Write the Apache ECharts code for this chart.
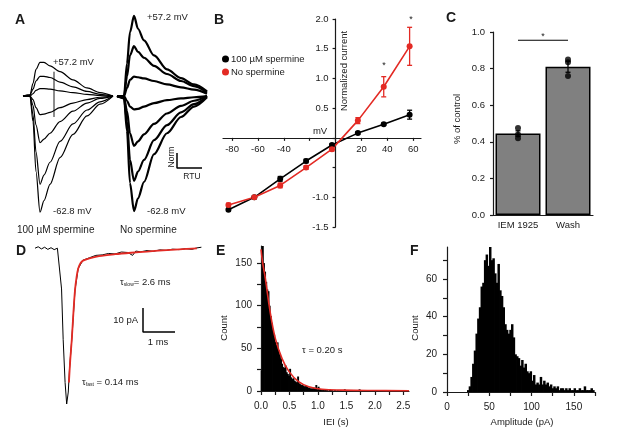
<!DOCTYPE html>
<html>
<head>
<meta charset="utf-8">
<script src="https://cdn.jsdelivr.net/npm/echarts@6/dist/echarts.min.js"></script>
<style>
html, body { margin: 0; padding: 0; background: #fff; }
#fig { width: 617px; height: 438px; }
</style>
</head>
<body>
<div id="fig"></div>
<script>
"use strict";

/*****Data start*****/
// A: normalized traces, one array per step potential (-62.8 ... +57.2 mV), sampled at aTime
var aTime = [0, 7, 10, 13, 17, 21, 27, 37, 50, 64, 77, 90];
var aSpermine = [
	[0, 0, -0.22, -0.65, -1.00, -0.90, -0.76, -0.53, -0.33, -0.17, -0.07, 0],
	[0, 0, -0.16, -0.48, -0.76, -0.68, -0.57, -0.39, -0.24, -0.12, -0.05, 0],
	[0, 0, -0.08, -0.25, -0.40, -0.37, -0.32, -0.22, -0.13, -0.06, -0.02, 0],
	[0, 0, -0.03, -0.10, -0.16, -0.155, -0.14, -0.10, -0.06, -0.03, -0.01, 0],
	[0, 0, 0.02, 0.05, 0.065, 0.065, 0.06, 0.045, 0.03, 0.015, 0.005, 0],
	[0, 0.01, 0.06, 0.13, 0.17, 0.17, 0.16, 0.12, 0.08, 0.04, 0.015, 0],
	[0, 0.01, 0.11, 0.23, 0.29, 0.29, 0.26, 0.21, 0.14, 0.07, 0.03, 0]
];
var aNoSpermine = [
	[0, -0.02, -0.30, -0.75, -0.99, -0.88, -0.74, -0.50, -0.32, -0.18, -0.09, -0.01],
	[0, -0.015, -0.22, -0.55, -0.73, -0.65, -0.55, -0.38, -0.25, -0.14, -0.07, 0],
	[0, -0.01, -0.13, -0.32, -0.43, -0.39, -0.33, -0.24, -0.15, -0.085, -0.04, 0],
	[0, 0, -0.04, -0.09, -0.115, -0.11, -0.09, -0.06, -0.035, -0.02, -0.01, 0],
	[0, 0, 0.07, 0.14, 0.167, 0.162, 0.152, 0.13, 0.10, 0.075, 0.055, 0.02],
	[0, 0, 0.17, 0.35, 0.43, 0.38, 0.33, 0.26, 0.19, 0.13, 0.085, 0.03],
	[0, 0, 0.28, 0.55, 0.69, 0.58, 0.48, 0.35, 0.23, 0.155, 0.10, 0.04]
];
var aArtifactT = 31;
var aArtifact = [0.21, -0.18];

// B: I-V relation
var bVolt = [-82.8, -62.8, -42.8, -22.8, -2.8, 17.2, 37.2, 57.2];
var bSpermine = [-1.21, -1.00, -0.69, -0.39, -0.12, 0.08, 0.23, 0.39];
var bSpermineErr = [0.02, 0.02, 0.04, 0.03, 0.02, 0.02, 0.02, 0.075];
var bNone = [-1.13, -1.00, -0.80, -0.50, -0.19, 0.29, 0.86, 1.54];
var bNoneErr = [0.03, 0.02, 0.04, 0.03, 0.03, 0.05, 0.17, 0.32];

// C: block by IEM 1925
var cCats = ['IEM 1925', 'Wash'];
var cMean = [0.445, 0.81];
var cSem = [0.015, 0.03];
var cPoints = [[0.475, 0.44, 0.42], [0.85, 0.835, 0.76]];
var cSig = 0.955;

// D: single event (ms, pA) and its fit
var dTime = [0, 0.1, 0.2, 0.3, 0.4, 0.5, 0.6, 0.7, 0.76, 0.83, 0.88, 0.94, 0.99, 1.04, 1.08, 1.15, 1.25, 1.35, 1.5, 1.7, 1.9, 2.1, 2.3, 2.5, 2.7, 2.9, 3.05, 3.15, 3.3, 3.5, 3.7, 3.9, 4.1, 4.3, 4.5, 4.7, 4.9, 5.05, 5.2];
var dCurrent = [0, 0.6, -0.3, 0.4, -0.5, 0.2, -0.6, 0, -0.8, -17, -38, -56, -65, -60, -50, -38, -17.5, -8.5, -5, -4, -3, -2.8, -2.2, -2.4, -1.6, -1.8, -3.0, -1.2, -1.5, -1.0, -1.3, -0.7, -0.9, -0.4, -0.6, -0.2, -0.5, 0.1, 0.4];
var dFitTime = [1.06, 1.1, 1.15, 1.2, 1.25, 1.3, 1.35, 1.42, 1.5, 1.7, 2.0, 2.5, 3.0, 3.5, 4.0, 4.5, 5.06];
var dFit = [-56, -47, -38, -27, -17.5, -12, -8.5, -6.3, -5.2, -4.2, -3.3, -2.5, -1.9, -1.4, -0.9, -0.5, -0.1];

// E: inter-event interval histogram (bin 0.02 s)
var eBinStart = 0, eBinWidth = 0.02;
var eCounts = [24, 170, 150, 140, 128, 119, 117, 100, 88, 80, 72, 66, 58, 54, 57, 48, 43, 38, 32, 28,
	27, 30, 22, 20, 18, 26, 16, 14, 15, 12, 11, 10, 17, 9, 8, 7, 7, 6, 5, 6,
	5, 4, 4, 3, 3, 3, 4, 3, 7, 2, 5, 2, 2, 1, 2, 1, 2, 1, 1, 0,
	2, 1, 1, 0, 1, 1, 0, 1, 0, 1, 1, 0, 0, 2, 0, 1, 0, 0, 1, 0,
	1, 0, 0, 0, 1, 0, 2, 0, 0, 1, 0];
var eFitT = [0, 0.03, 0.076, 0.16, 0.25, 0.37, 0.49, 0.66, 0.84, 1.07, 1.43, 2.0, 2.6];
var eFit = [166, 150, 132, 93, 62, 38, 23, 11, 5, 2, 1, 0.5, 0.3];

// F: amplitude histogram (bin 2 pA)
var fBinStart = 24, fBinWidth = 2;
var fCounts = [1, 3, 8, 15, 22, 31, 39, 45, 56, 58, 70, 73, 67, 77, 70, 71, 63, 58, 68, 54,
	51, 45, 36, 33, 31, 33, 36, 29, 20, 19, 18, 14, 17, 13, 15, 11, 10, 11, 6, 9,
	4, 5, 4, 8, 4, 6, 4, 5, 3, 4, 2, 3, 2, 3, 1, 2, 2, 1, 2, 1,
	2, 1, 1, 2, 1, 1, 2, 1, 1, 3, 1, 1, 1, 2, 1, 0];
/*****Data end*****/

var fontFam = "'Liberation Sans', Arial, sans-serif";
var ink = '#1a1a1a';
var red = '#e32a24';

/*****Layout*****/
var grids = [
	{ left: 23, top: 9, width: 90, height: 209 },
	{ left: 117, top: 9, width: 90, height: 209 },
	{ left: 223, top: 19, width: 198, height: 208 },
	{ left: 493, top: 32, width: 100, height: 183 },
	{ left: 35, top: 241, width: 168, height: 175 },
	{ left: 261, top: 246, width: 148, height: 145 },
	{ left: 447, top: 247, width: 148, height: 145 }
];
var bX = [-87, 66], bY = [-1.5, 2.0];
// B axes cross at the origin: shift them there from the grid edges
var bXOffset = -(grids[2].height * (0 - bY[0]) / (bY[1] - bY[0]));
var bYOffset = -(grids[2].width * (0 - bX[0]) / (bX[1] - bX[0]));

function pairs(xs, ys) {
	var out = [];
	for (var i = 0; i < xs.length; i++) out.push([xs[i], ys[i]]);
	return out;
}

function errRender(capW, color, lw) {
	return function (params, api) {
		var x = api.value(0);
		var p1 = api.coord([x, api.value(1)]);
		var p2 = api.coord([x, api.value(2)]);
		var st = { stroke: color, lineWidth: lw };
		return {
			type: 'group',
			children: [
				{ type: 'line', shape: { x1: p1[0], y1: p1[1], x2: p2[0], y2: p2[1] }, style: st },
				{ type: 'line', shape: { x1: p1[0] - capW, y1: p1[1], x2: p1[0] + capW, y2: p1[1] }, style: st },
				{ type: 'line', shape: { x1: p2[0] - capW, y1: p2[1], x2: p2[0] + capW, y2: p2[1] }, style: st }
			]
		};
	};
}

function histRender(start, width) {
	return function (params, api) {
		var i = api.value(0);
		var a = api.coord([start + i * width, api.value(1)]);
		var b = api.coord([start + (i + 1) * width, 0]);
		return {
			type: 'rect',
			shape: { x: a[0] - 0.3, y: a[1], width: b[0] - a[0] + 0.8, height: b[1] - a[1] },
			style: { fill: '#000' }
		};
	};
}

function axisStyle(gridIndex, opts) {
	var ax = {
		gridIndex: gridIndex,
		type: 'value',
		axisLine: { show: true, onZero: false, lineStyle: { color: ink, width: 1.2 } },
		axisTick: { show: true, length: 3, lineStyle: { color: ink, width: 1.2 } },
		axisLabel: { color: ink, fontSize: 9.5, fontFamily: fontFam },
		splitLine: { show: false }
	};
	for (var k in opts) {
		if (typeof opts[k] === 'object' && ax[k] && !Array.isArray(opts[k])) {
			for (var j in opts[k]) ax[k][j] = opts[k][j];
		} else {
			ax[k] = opts[k];
		}
	}
	return ax;
}

function hidden(gridIndex, min, max) {
	return { gridIndex: gridIndex, type: 'value', min: min, max: max, show: false };
}

function range(a, b, step) {
	var out = [];
	for (var v = a; v <= b + 1e-9; v += step) out.push(Math.round(v * 1000) / 1000);
	return out;
}

var series = [];

/* A traces */
[aSpermine, aNoSpermine].forEach(function (set, g) {
	set.forEach(function (trace) {
		series.push({
			type: 'line', xAxisIndex: g, yAxisIndex: g,
			data: pairs(aTime, trace),
			smooth: 0.3, smoothMonotone: 'x', showSymbol: false, silent: true,
			lineStyle: { color: '#000', width: g === 0 ? 1.2 : 2.2 }
		});
	});
});
series.push({
	type: 'line', xAxisIndex: 0, yAxisIndex: 0, showSymbol: false,
	data: [[aArtifactT, aArtifact[0]], [aArtifactT, aArtifact[1]]],
	lineStyle: { color: '#000', width: 0.9 }
});
// A scale bar (Norm / RTU)
series.push({
	type: 'line', xAxisIndex: 1, yAxisIndex: 1, showSymbol: false,
	data: [[60, -0.49], [60, -0.62], [85, -0.62]],
	lineStyle: { color: '#000', width: 1.5 }
});

/* B I-V */
series.push({
	name: '100 µM spermine', type: 'line', xAxisIndex: 2, yAxisIndex: 2,
	data: pairs(bVolt, bSpermine), symbol: 'circle', symbolSize: 6,
	itemStyle: { color: '#000' }, lineStyle: { color: '#000', width: 1.6 }
});
series.push({
	type: 'custom', xAxisIndex: 2, yAxisIndex: 2,
	renderItem: errRender(2.5, '#000', 1.3),
	data: bVolt.map(function (v, i) { return [v, bSpermine[i] - bSpermineErr[i], bSpermine[i] + bSpermineErr[i]]; })
});
series.push({
	name: 'No spermine', type: 'line', xAxisIndex: 2, yAxisIndex: 2,
	data: pairs(bVolt, bNone), symbol: 'circle', symbolSize: 6,
	itemStyle: { color: red }, lineStyle: { color: red, width: 1.6 }
});
series.push({
	type: 'custom', xAxisIndex: 2, yAxisIndex: 2,
	renderItem: errRender(2.5, red, 1.3),
	data: bVolt.map(function (v, i) { return [v, bNone[i] - bNoneErr[i], bNone[i] + bNoneErr[i]]; })
});

/* C bars */
series.push({
	type: 'bar', xAxisIndex: 3, yAxisIndex: 3, data: cMean, barWidth: 45,
	itemStyle: { color: '#808080', borderColor: '#000', borderWidth: 1.5 }
});
series.push({
	type: 'custom', xAxisIndex: 3, yAxisIndex: 3,
	renderItem: errRender(2.5, '#000', 1.3),
	data: cMean.map(function (m, i) { return [i, m - cSem[i], m + cSem[i]]; }), z: 3
});
var cDots = [];
cPoints.forEach(function (pts, i) { pts.forEach(function (p) { cDots.push([i, p]); }); });
series.push({
	type: 'scatter', xAxisIndex: 3, yAxisIndex: 3, data: cDots, symbolSize: 6,
	itemStyle: { color: '#000' }, z: 4
});
series.push({
	type: 'line', xAxisIndex: 3, yAxisIndex: 3, showSymbol: false,
	data: [[0, cSig], [1, cSig]], lineStyle: { color: '#000', width: 1.2 }
});

/* D trace */
series.push({
	type: 'line', xAxisIndex: 4, yAxisIndex: 4, data: pairs(dTime, dCurrent),
	showSymbol: false, lineStyle: { color: '#000', width: 1 }
});
series.push({
	type: 'line', xAxisIndex: 4, yAxisIndex: 4, data: pairs(dFitTime, dFit),
	smooth: 0.3, showSymbol: false, lineStyle: { color: red, width: 1.8 }
});
// D scale bar: 10 pA, 1 ms
series.push({
	type: 'line', xAxisIndex: 4, yAxisIndex: 4, showSymbol: false,
	data: [[3.375, -25], [3.375, -35], [4.375, -35]],
	lineStyle: { color: '#000', width: 1.5 }
});

/* E histogram */
series.push({
	type: 'custom', xAxisIndex: 5, yAxisIndex: 5,
	renderItem: histRender(eBinStart, eBinWidth),
	data: eCounts.map(function (c, i) { return [i, c]; })
});
series.push({
	type: 'line', xAxisIndex: 5, yAxisIndex: 5, data: pairs(eFitT, eFit),
	smooth: 0.4, showSymbol: false, lineStyle: { color: red, width: 1.6 }
});

/* F histogram */
series.push({
	type: 'custom', xAxisIndex: 6, yAxisIndex: 6,
	renderItem: histRender(fBinStart, fBinWidth),
	data: fCounts.map(function (c, i) { return [i, c]; })
});

function txt(text, x, y, o) {
	o = o || {};
	return {
		type: 'text', x: x, y: y, rotation: o.rot || 0,
		style: {
			text: text, fill: ink, fontFamily: fontFam,
			fontSize: o.size || 9.5, fontWeight: o.bold ? 'bold' : 'normal',
			textAlign: o.align || 'left', textVerticalAlign: 'middle',
			rich: o.rich
		}
	};
}

var sub = {
	t: { fontSize: 9.5, fontFamily: fontFam, color: ink },
	s: { fontSize: 5, fontFamily: fontFam, color: ink, padding: [6, 0, 0, 0] }
};

var graphics = [
	txt('A', 15, 20, { bold: true, size: 14 }),
	txt('B', 214, 20, { bold: true, size: 14 }),
	txt('C', 446, 18, { bold: true, size: 14 }),
	txt('D', 16, 251, { bold: true, size: 14 }),
	txt('E', 216, 251, { bold: true, size: 14 }),
	txt('F', 410, 251, { bold: true, size: 14 }),
	txt('+57.2 mV', 53, 62),
	txt('+57.2 mV', 147, 17),
	txt('-62.8 mV', 53, 211),
	txt('-62.8 mV', 147, 211),
	txt('100 µM spermine', 17, 230, { size: 10 }),
	txt('No spermine', 120, 230, { size: 10 }),
	txt('Norm', 172, 157, { rot: Math.PI / 2, align: 'center', size: 8.5 }),
	txt('RTU', 192, 177, { align: 'center', size: 8.5 }),
	txt('mV', 320, 131, { align: 'center' }),
	txt('Normalized current', 344, 71, { rot: Math.PI / 2, align: 'center' }),
	txt('*', 384, 66, { align: 'center', size: 9 }),
	txt('*', 411, 20, { align: 'center', size: 9 }),
	txt('% of control', 457, 119, { rot: Math.PI / 2, align: 'center' }),
	txt('*', 543, 37, { align: 'center', size: 9 }),
	txt('{t|τ}{s|slow}{t|= 2.6 ms}', 120, 282, { rich: sub }),
	txt('10 pA', 138, 320, { align: 'right' }),
	txt('1 ms', 158, 342, { align: 'center' }),
	txt('{t|τ}{s|fast}{t| = 0.14 ms}', 82, 382, { rich: sub }),
	txt('τ = 0.20 s', 302, 350),
	txt('Count', 224, 328, { rot: Math.PI / 2, align: 'center' }),
	txt('IEI (s)', 336, 422, { align: 'center' }),
	txt('Count', 415, 328, { rot: Math.PI / 2, align: 'center' }),
	txt('Amplitude (pA)', 522, 422, { align: 'center' })
];

var option = {
	animation: false,
	textStyle: { fontFamily: fontFam },
	grid: grids,
	legend: {
		data: ['100 µM spermine', 'No spermine'],
		orient: 'vertical', left: 222, top: 54, padding: 0,
		icon: 'circle', itemWidth: 7, itemHeight: 7, itemGap: 3,
		textStyle: { fontSize: 9.5, color: ink, fontFamily: fontFam, padding: [0, 0, 0, -3] }
	},
	xAxis: [
		hidden(0, 0, 90),
		hidden(1, 0, 90),
		axisStyle(2, {
			min: bX[0], max: bX[1], offset: bXOffset,
			axisTick: { customValues: [-80, -60, -40, -20, 0, 20, 40, 60] },
			axisLabel: { customValues: [-80, -60, -40, 20, 40, 60], margin: 7 }
		}),
		axisStyle(3, {
			type: 'category', data: cCats,
			axisTick: { show: false },
			axisLabel: { margin: 5, interval: 0 }
		}),
		hidden(4, 0, 5.25),
		axisStyle(5, {
			min: 0, max: 2.6,
			axisTick: { customValues: range(0, 2.5, 0.25), length: 4 },
			axisLabel: { customValues: range(0, 2.5, 0.5), margin: 10, fontSize: 10,
				formatter: function (v) { return v.toFixed(1); } }
		}),
		axisStyle(6, {
			min: 0, max: 175,
			axisTick: { customValues: range(0, 175, 25), length: 4 },
			axisLabel: { customValues: [0, 50, 100, 150], margin: 10, fontSize: 10 }
		})
	],
	yAxis: [
		hidden(0, -1.05, 0.75),
		hidden(1, -1.05, 0.75),
		axisStyle(2, {
			min: bY[0], max: bY[1], interval: 0.5, offset: bYOffset,
			axisLabel: { margin: 7, formatter: function (v) {
				return (v === 0 || v === -0.5) ? '' : v.toFixed(1);
			} }
		}),
		axisStyle(3, {
			min: 0, max: 1.0, interval: 0.2,
			axisLabel: { margin: 8, formatter: function (v) { return v.toFixed(1); } }
		}),
		hidden(4, -70, 3),
		axisStyle(5, {
			min: 0, max: 170,
			axisTick: { customValues: range(0, 150, 25), length: 4 },
			axisLabel: { customValues: [0, 50, 100, 150], margin: 9, fontSize: 10 }
		}),
		axisStyle(6, {
			min: 0, max: 77,
			axisTick: { customValues: range(0, 70, 10), length: 4 },
			axisLabel: { customValues: [0, 20, 40, 60], margin: 10, fontSize: 10 }
		})
	],
	series: series,
	graphic: graphics
};

var fig = echarts.init(document.getElementById('fig'));
fig.setOption(option);
</script>
</body>
</html>
